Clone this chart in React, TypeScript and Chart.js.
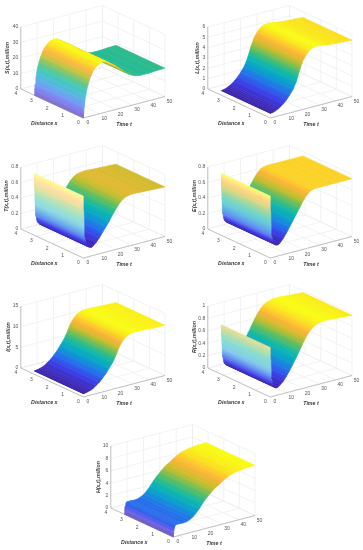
import { useEffect, useRef } from "react";
import { Chart, registerables } from "chart.js";

Chart.register(...registerables);

const tSamples = [0, 0.25, 0.5, 1, 1.5, 2, 3, 4, 5, 6, 8, 10, 12, 14, 16, 18, 20, 22, 24, 26, 28, 30, 32, 35, 40, 45, 50];
const xExtent = 3.14;
const tTicks = [0, 10, 20, 30, 40, 50];
const xTicks = [0, 1, 2, 3, 4];

const sValues = [0, 3, 7, 11, 14, 17, 21, 24, 26.5, 28.5, 31, 32.4, 33, 32.5, 31, 29.5, 28, 26, 24, 22, 20.5, 19.3, 18.4, 17.8, 17.8, 18.1, 18.3];
const lValues = [0.45, 0.45, 0.46, 0.47, 0.48, 0.5, 0.55, 0.62, 0.7, 0.8, 1.05, 1.35, 1.75, 2.2, 2.9, 3.9, 4.7, 5.2, 5.55, 5.72, 5.78, 5.75, 5.7, 5.62, 5.55, 5.5, 5.45];
const tValues = [0.8, 0.6, 0.4, 0.25, 0.19, 0.16, 0.13, 0.115, 0.11, 0.12, 0.16, 0.21, 0.27, 0.33, 0.39, 0.46, 0.52, 0.58, 0.62, 0.645, 0.655, 0.66, 0.66, 0.655, 0.65, 0.645, 0.64];
const eValues = [0.8, 0.6, 0.42, 0.27, 0.21, 0.18, 0.155, 0.145, 0.145, 0.16, 0.21, 0.27, 0.34, 0.41, 0.48, 0.55, 0.62, 0.68, 0.72, 0.74, 0.745, 0.745, 0.745, 0.745, 0.745, 0.745, 0.745];
const iValues = [0.8, 0.8, 0.82, 0.85, 0.88, 0.9, 1, 1.1, 1.25, 1.45, 2, 2.6, 3.4, 4.3, 5.4, 6.5, 8, 9.8, 11, 11.8, 12.2, 12.4, 12.45, 12.4, 12.3, 12.2, 12.15];
const rValues = [0.8, 0.6, 0.42, 0.27, 0.19, 0.16, 0.13, 0.12, 0.13, 0.15, 0.2, 0.27, 0.35, 0.44, 0.53, 0.63, 0.73, 0.82, 0.89, 0.94, 0.97, 0.985, 1, 1, 0.99, 0.98, 0.97];
const hValues = [0, 0.7, 1.3, 1.7, 1.85, 1.9, 1.9, 1.9, 1.88, 1.85, 1.9, 2.1, 2.4, 2.9, 3.5, 4.2, 4.8, 5.3, 5.8, 6.2, 6.5, 6.9, 7.2, 7.6, 7.9, 8.05, 8.1];

const sTicks = [0, 10, 20, 30, 40];
const lTicks = [0, 1, 2, 3, 4, 5, 6];
const fracTicks = [0, 0.2, 0.4, 0.6, 0.8];
const iTicks = [0, 5, 10, 15];
const rTicks = [0, 0.2, 0.4, 0.6, 0.8, 1];
const hTicks = [0, 2, 4, 6, 8, 10];

const parula: [number, number, number, number][] = [
  [0, 60, 35, 170],
  [0.125, 60, 62, 232],
  [0.25, 35, 115, 235],
  [0.375, 10, 160, 205],
  [0.5, 15, 185, 170],
  [0.625, 90, 190, 100],
  [0.75, 200, 190, 45],
  [0.85, 253, 180, 55],
  [1, 249, 251, 21],
];

const canvasW = 176;
const canvasH = 131;
const origin = { x: 83.3, y: 118 };
const tAxis = { x: 81.7, y: -21.5 };
const xAxis = { x: -62.5, y: -29 };
const zAxisHeight = 62;

type Panel = {
  title: string;
  values: number[];
  ticks: number[];
  left: number;
  top: number;
  titleDx: number;
  titleDy: number;
  washMax: number;
  washStart: number;
  washGain: number;
};

const panels: Panel[] = [
  { title: "S(x,t),million", values: sValues, ticks: sTicks, left: 0, top: 0, titleDx: -76, titleDy: -60, washMax: 0.35, washStart: 1, washGain: 0.04 },
  { title: "L(x,t),million", values: lValues, ticks: lTicks, left: 187, top: 0, titleDx: -73, titleDy: -60, washMax: 0.5, washStart: 7, washGain: 0.03 },
  { title: "T(x,t),million", values: tValues, ticks: fracTicks, left: 0, top: 140, titleDx: -77, titleDy: -62, washMax: 0.55, washStart: 5, washGain: 0.03 },
  { title: "E(x,t),million", values: eValues, ticks: fracTicks, left: 187, top: 140, titleDx: -76, titleDy: -62, washMax: 0.4, washStart: 5, washGain: 0.03 },
  { title: "I(x,t),million", values: iValues, ticks: iTicks, left: 0, top: 279, titleDx: -75, titleDy: -60, washMax: 0.5, washStart: 7, washGain: 0.03 },
  { title: "R(x,t),million", values: rValues, ticks: rTicks, left: 187, top: 279, titleDx: -76, titleDy: -60, washMax: 0.5, washStart: 5, washGain: 0.03 },
  { title: "H(x,t),million", values: hValues, ticks: hTicks, left: 90, top: 419, titleDx: -75, titleDy: -60, washMax: 0.3, washStart: 5, washGain: 0.03 },
];

function parulaAt(f: number): number[] {
  const v = Math.max(0, Math.min(1, f));
  for (let i = 1; i < parula.length; i++) {
    if (v <= parula[i][0]) {
      const a = parula[i - 1];
      const b = parula[i];
      const k = (v - a[0]) / (b[0] - a[0]);
      return [a[1] + (b[1] - a[1]) * k, a[2] + (b[2] - a[2]) * k, a[3] + (b[3] - a[3]) * k];
    }
  }
  return parula[parula.length - 1].slice(1);
}

function makeProjector(zMax: number) {
  return (t: number, x: number, z: number) => ({
    x: origin.x + (t / 50) * tAxis.x + (x / 4) * xAxis.x,
    y: origin.y + (t / 50) * tAxis.y + (x / 4) * xAxis.y - (z / zMax) * zAxisHeight,
  });
}

function PanelChart({ panel }: { panel: Panel }) {
  const ref = useRef<HTMLCanvasElement | null>(null);
  useEffect(() => {
    const canvas = ref.current;
    if (!canvas) return;
    const zMax = panel.ticks[panel.ticks.length - 1];
    const zLow = Math.min(...panel.values);
    const zHigh = Math.max(...panel.values);
    const project = makeProjector(zMax);

    const slopes: number[] = [];
    for (let i = 0; i < tSamples.length - 1; i++) {
      slopes.push(Math.abs((panel.values[i + 1] - panel.values[i]) / zMax) / ((tSamples[i + 1] - tSamples[i]) / 50));
    }
    const washAt = (i: number) => {
      const a = slopes[Math.max(0, i - 1)];
      const b = slopes[Math.min(slopes.length - 1, i)];
      const s = (a + b) / 2;
      return Math.max(0, Math.min(panel.washMax, (s - panel.washStart) * panel.washGain));
    };
    const colorAt = (z: number, wash: number) => {
      const c = parulaAt((z - zLow) / (zHigh - zLow));
      const m = c.map((v) => Math.round(v + (255 - v) * wash));
      return `rgb(${m[0]},${m[1]},${m[2]})`;
    };

    const stripStyle = (i: number) => (ctx: any) => {
      const chart = ctx.chart;
      const sx = chart.scales.x;
      const sy = chart.scales.y;
      const toPixel = (p: { x: number; y: number }) => ({ x: sx.getPixelForValue(p.x), y: sy.getPixelForValue(p.y) });
      const a = toPixel(project(tSamples[i], 0, panel.values[i]));
      const b = toPixel(project(tSamples[i], xExtent, panel.values[i]));
      const d = toPixel(project(tSamples[i + 1], 0, panel.values[i + 1]));
      const ux = b.x - a.x;
      const uy = b.y - a.y;
      const len = Math.hypot(ux, uy);
      const nx = -uy / len;
      const ny = ux / len;
      const dist = (d.x - a.x) * nx + (d.y - a.y) * ny;
      const wa = washAt(i);
      const wb = washAt(i + 1);
      const ready = [a.x, a.y, nx, ny, dist].every(Number.isFinite);
      if (!ready || Math.abs(dist) < 0.01) return colorAt(panel.values[i], wa);
      const g = chart.ctx.createLinearGradient(a.x, a.y, a.x + nx * dist, a.y + ny * dist);
      const steps = 8;
      for (let k = 0; k <= steps; k++) {
        const f = k / steps;
        g.addColorStop(f, colorAt(panel.values[i] + (panel.values[i + 1] - panel.values[i]) * f, wa + (wb - wa) * f));
      }
      return g;
    };

    const datasets: any[] = [];
    for (let i = 0; i < tSamples.length - 1; i++) {
      const style = stripStyle(i);
      datasets.push({
        data: [
          project(tSamples[i], 0, panel.values[i]),
          project(tSamples[i], xExtent, panel.values[i]),
          project(tSamples[i + 1], xExtent, panel.values[i + 1]),
          project(tSamples[i + 1], 0, panel.values[i + 1]),
          project(tSamples[i], 0, panel.values[i]),
        ],
        showLine: true,
        fill: "shape",
        backgroundColor: style,
        borderColor: style,
        borderWidth: 0.6,
        pointRadius: 0,
        clip: false,
      });
    }

    const pushLine = (a: { x: number; y: number }, b: { x: number; y: number }, color: string, width: number) => {
      datasets.push({
        data: [a, b],
        showLine: true,
        fill: false,
        borderColor: color,
        borderWidth: width,
        pointRadius: 0,
        clip: false,
      });
    };

    const axisColor = "#a0a0a0";
    pushLine(project(0, 0, 0), project(50, 0, 0), axisColor, 0.6);
    pushLine(project(0, 0, 0), project(0, 4, 0), axisColor, 0.6);
    pushLine(project(0, 4, 0), project(0, 4, zMax), axisColor, 0.6);

    const gridColor = "#ececec";
    for (const t of tTicks) {
      pushLine(project(t, 0, 0), project(t, 4, 0), gridColor, 0.7);
      pushLine(project(t, 4, 0), project(t, 4, zMax), gridColor, 0.7);
    }
    for (const x of xTicks) {
      pushLine(project(0, x, 0), project(50, x, 0), gridColor, 0.7);
      pushLine(project(50, x, 0), project(50, x, zMax), gridColor, 0.7);
    }
    for (const z of panel.ticks) {
      pushLine(project(0, 4, z), project(50, 4, z), gridColor, 0.7);
      pushLine(project(50, 4, z), project(50, 0, z), gridColor, 0.7);
    }

    const labelPlugin = {
      id: "axisText",
      afterDraw(chart: any) {
        const ctx = chart.ctx;
        const sx = chart.scales.x;
        const sy = chart.scales.y;
        const at = (p: { x: number; y: number }) => ({ x: sx.getPixelForValue(p.x), y: sy.getPixelForValue(p.y) });
        ctx.save();
        ctx.fillStyle = "#555555";
        ctx.font = '5px "Liberation Sans"';
        ctx.textBaseline = "middle";
        ctx.textAlign = "right";
        for (const z of panel.ticks) {
          const p = at(project(0, 4, z));
          ctx.fillText(String(z), p.x - 2.5, p.y);
        }
        ctx.textAlign = "center";
        for (const x of xTicks) {
          const p = at(project(0, x, 0));
          ctx.fillText(String(x), p.x - 5, p.y + 4.7);
        }
        for (const t of tTicks) {
          const p = at(project(t, 0, 0));
          ctx.fillText(String(t), p.x + 4.6, p.y + 5);
        }
        ctx.fillStyle = "#3a3a3a";
        ctx.font = 'italic bold 5.3px "Liberation Sans"';
        const o = at(project(0, 0, 0));
        ctx.fillText("Distance x", o.x - 39, o.y + 5.5);
        ctx.fillText("Time t", o.x + 40.7, o.y + 6.7);
        ctx.translate(o.x + panel.titleDx, o.y + panel.titleDy);
        ctx.rotate(-Math.PI / 2);
        ctx.fillText(panel.title, 0, 0);
        ctx.restore();
      },
    };

    const chart = new Chart(canvas, {
      type: "scatter",
      data: { datasets },
      plugins: [labelPlugin],
      options: {
        animation: false,
        responsive: false,
        events: [],
        layout: { padding: 0 },
        plugins: { legend: { display: false }, tooltip: { enabled: false } },
        scales: {
          x: { type: "linear", display: false, min: 0, max: canvasW },
          y: { type: "linear", display: false, min: 0, max: canvasH, reverse: true },
        },
      },
    } as any);
    return () => chart.destroy();
  }, [panel]);
  return (
    <canvas
      ref={ref}
      width={canvasW}
      height={canvasH}
      style={{ position: "absolute", left: panel.left, top: panel.top, width: canvasW, height: canvasH, filter: "blur(0.3px)" }}
    />
  );
}

export default function App() {
  return (
    <div style={{ position: "absolute", left: 0, top: 0, width: 363, height: 550, background: "#fff", overflow: "hidden" }}>
      {panels.map((p) => (
        <PanelChart key={p.title} panel={p} />
      ))}
    </div>
  );
}
